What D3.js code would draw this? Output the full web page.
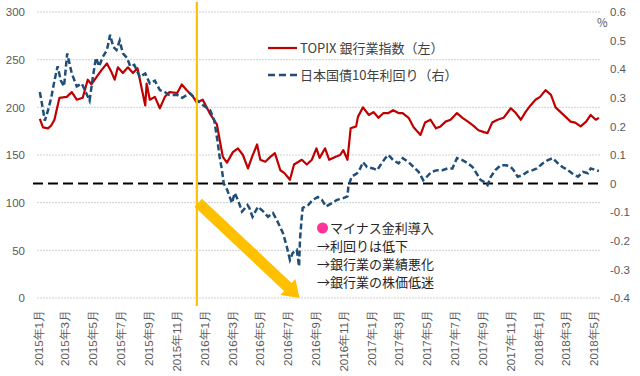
<!DOCTYPE html>
<html>
<head>
<meta charset="utf-8">
<script src="https://cdn.jsdelivr.net/npm/d3@7"></script>
<style>
body { margin: 0; background: #fff; }
svg { display: block; font-family: "Noto Sans CJK JP", "Noto Sans", sans-serif; }
.axis text { fill: #595959; font-size: 11.5px; }
.axis .domain { display: none; }
</style>
</head>
<body>
<svg id="chart" width="640" height="376"></svg>
<script>
// TOPIX 銀行業指数 (left axis)
const bankSeries = [
    ['2015-01-05', 188], ['2015-01-12', 179], ['2015-01-23', 178], ['2015-01-30', 181], ['2015-02-06', 187],
    ['2015-02-17', 210], ['2015-03-05', 211], ['2015-03-16', 216], ['2015-03-27', 208], ['2015-04-09', 210],
    ['2015-04-20', 229], ['2015-04-28', 224], ['2015-05-08', 231], ['2015-05-20', 239], ['2015-06-01', 246],
    ['2015-06-11', 237], ['2015-06-18', 229], ['2015-06-25', 242], ['2015-07-06', 236], ['2015-07-17', 242],
    ['2015-07-28', 236], ['2015-08-07', 241], ['2015-08-24', 202], ['2015-08-27', 225], ['2015-09-03', 208],
    ['2015-09-14', 211], ['2015-09-25', 199], ['2015-10-06', 211], ['2015-10-16', 216], ['2015-11-02', 215],
    ['2015-11-12', 224], ['2015-11-23', 218], ['2015-12-07', 211], ['2015-12-15', 205], ['2015-12-28', 208],
    ['2016-01-12', 194], ['2016-01-28', 182], ['2016-02-03', 166], ['2016-02-10', 148], ['2016-02-19', 142],
    ['2016-03-03', 153], ['2016-03-14', 157], ['2016-03-25', 150], ['2016-04-05', 136], ['2016-04-14', 148],
    ['2016-04-25', 161], ['2016-05-02', 145], ['2016-05-13', 143], ['2016-05-24', 148], ['2016-06-03', 152],
    ['2016-06-15', 134], ['2016-06-24', 131], ['2016-07-06', 124], ['2016-07-15', 140], ['2016-08-01', 145],
    ['2016-08-12', 140], ['2016-08-23', 145], ['2016-09-02', 157], ['2016-09-09', 147], ['2016-09-21', 157],
    ['2016-09-30', 145], ['2016-10-13', 148], ['2016-10-24', 150], ['2016-10-31', 155], ['2016-11-09', 145],
    ['2016-11-16', 178], ['2016-11-28', 180], ['2016-12-02', 190], ['2016-12-13', 200], ['2016-12-26', 192],
    ['2017-01-05', 195], ['2017-01-16', 189], ['2017-01-27', 194], ['2017-02-07', 194], ['2017-02-17', 197],
    ['2017-03-01', 194], ['2017-03-10', 194], ['2017-03-23', 189], ['2017-04-03', 179], ['2017-04-18', 171],
    ['2017-04-28', 184], ['2017-05-10', 187], ['2017-05-22', 178], ['2017-06-01', 180], ['2017-06-12', 185],
    ['2017-06-23', 187], ['2017-07-07', 194], ['2017-07-19', 189], ['2017-07-31', 185], ['2017-08-11', 181],
    ['2017-08-23', 176], ['2017-09-04', 174], ['2017-09-12', 173], ['2017-09-22', 184], ['2017-10-04', 187],
    ['2017-10-17', 189], ['2017-11-02', 199], ['2017-11-13', 194], ['2017-11-24', 187], ['2017-12-04', 195],
    ['2017-12-15', 202], ['2017-12-26', 208], ['2018-01-05', 211], ['2018-01-17', 218], ['2018-01-29', 213],
    ['2018-02-08', 200], ['2018-02-19', 195], ['2018-03-02', 190], ['2018-03-13', 185], ['2018-03-23', 184],
    ['2018-04-04', 180], ['2018-04-16', 185], ['2018-04-26', 192], ['2018-05-07', 187], ['2018-05-14', 189],
];

// 日本国債10年利回り, % (right axis)
const jgbSeries = [
    ['2015-01-05', 0.32], ['2015-01-09', 0.285], ['2015-01-16', 0.22], ['2015-01-23', 0.257], ['2015-01-30', 0.30],
    ['2015-02-06', 0.36], ['2015-02-13', 0.41], ['2015-02-20', 0.36], ['2015-02-27', 0.34], ['2015-03-06', 0.455],
    ['2015-03-16', 0.385], ['2015-03-27', 0.34], ['2015-04-07', 0.35], ['2015-04-17', 0.315], ['2015-04-24', 0.29],
    ['2015-05-01', 0.37], ['2015-05-08', 0.44], ['2015-05-15', 0.41], ['2015-05-22', 0.44], ['2015-06-01', 0.467],
    ['2015-06-08', 0.52], ['2015-06-15', 0.478], ['2015-06-22', 0.467], ['2015-06-29', 0.50], ['2015-07-06', 0.455],
    ['2015-07-15', 0.44], ['2015-07-22', 0.41], ['2015-07-31', 0.415], ['2015-08-12', 0.373], ['2015-08-24', 0.385],
    ['2015-09-03', 0.35], ['2015-09-14', 0.36], ['2015-09-25', 0.327], ['2015-10-06', 0.32], ['2015-10-16', 0.31],
    ['2015-11-02', 0.31], ['2015-11-13', 0.30], ['2015-11-30', 0.316], ['2015-12-15', 0.292], ['2015-12-28', 0.275],
    ['2016-01-13', 0.257], ['2016-01-22', 0.222], ['2016-01-29', 0.152], ['2016-02-03', 0.093], ['2016-02-08', 0.048],
    ['2016-02-12', 0.0], ['2016-02-19', -0.02], ['2016-03-01', -0.068], ['2016-03-07', -0.033], ['2016-03-14', -0.057],
    ['2016-03-23', -0.098], ['2016-04-04', -0.075], ['2016-04-08', -0.085], ['2016-04-15', -0.116], ['2016-04-27', -0.081],
    ['2016-05-09', -0.098], ['2016-05-19', -0.116], ['2016-05-30', -0.103], ['2016-06-07', -0.127], ['2016-06-14', -0.15],
    ['2016-06-21', -0.174], ['2016-06-29', -0.22], ['2016-07-06', -0.267], ['2016-07-12', -0.243], ['2016-07-21', -0.232],
    ['2016-07-26', -0.29], ['2016-07-28', -0.197], ['2016-08-01', -0.116], ['2016-08-03', -0.085], ['2016-08-15', -0.075],
    ['2016-08-25', -0.057], ['2016-09-05', -0.047], ['2016-09-14', -0.057], ['2016-09-23', -0.08], ['2016-10-06', -0.068],
    ['2016-10-17', -0.057], ['2016-10-31', -0.051], ['2016-11-09', -0.045], ['2016-11-11', -0.011], ['2016-11-18', 0.024],
    ['2016-11-30', 0.036], ['2016-12-07', 0.053], ['2016-12-13', 0.075], ['2016-12-22', 0.058], ['2017-01-04', 0.053],
    ['2017-01-13', 0.047], ['2017-01-20', 0.064], ['2017-01-31', 0.089], ['2017-02-07', 0.10], ['2017-02-17', 0.082],
    ['2017-03-01', 0.071], ['2017-03-10', 0.089], ['2017-03-23', 0.075], ['2017-04-03', 0.058], ['2017-04-14', 0.041],
    ['2017-04-24', 0.012], ['2017-05-02', 0.024], ['2017-05-12', 0.041], ['2017-05-25', 0.047], ['2017-06-05', 0.047],
    ['2017-06-16', 0.053], ['2017-06-27', 0.053], ['2017-07-07', 0.089], ['2017-07-19', 0.082], ['2017-07-31', 0.071],
    ['2017-08-10', 0.058], ['2017-08-21', 0.03], ['2017-08-28', 0.012], ['2017-09-04', 0.006], ['2017-09-12', -0.005],
    ['2017-09-19', 0.024], ['2017-09-29', 0.047], ['2017-10-11', 0.064], ['2017-10-23', 0.064], ['2017-11-02', 0.058],
    ['2017-11-08', 0.047], ['2017-11-17', 0.024], ['2017-11-28', 0.03], ['2017-12-08', 0.041], ['2017-12-20', 0.047],
    ['2017-12-29', 0.053], ['2018-01-11', 0.071], ['2018-01-22', 0.082], ['2018-02-02', 0.089], ['2018-02-13', 0.071],
    ['2018-02-23', 0.058], ['2018-03-07', 0.047], ['2018-03-16', 0.036], ['2018-03-29', 0.024], ['2018-04-09', 0.041],
    ['2018-04-20', 0.036], ['2018-04-26', 0.053], ['2018-05-07', 0.047], ['2018-05-14', 0.044],
];

const leftTicks = [0, 50, 100, 150, 200, 250, 300];
const rightTicks = [-0.4, -0.3, -0.2, -0.1, 0, 0.1, 0.2, 0.3, 0.4, 0.5, 0.6];
const monthTicks = [
    '2015-01-01', '2015-03-01', '2015-05-01', '2015-07-01', '2015-09-01', '2015-11-01',
    '2016-01-01', '2016-03-01', '2016-05-01', '2016-07-01', '2016-09-01', '2016-11-01',
    '2017-01-01', '2017-03-01', '2017-05-01', '2017-07-01', '2017-09-01', '2017-11-01',
    '2018-01-01', '2018-03-01', '2018-05-01',
];
const seriesNames = ['TOPIX 銀行業指数（左）', '日本国債10年利回り（右）'];
const noteTitle = 'マイナス金利導入';
const noteLines = ['→利回りは低下', '→銀行業の業績悪化', '→銀行業の株価低迷'];
const markerDate = '2015-12-15';
const arrowFrom = ['2015-12-18', 100];
const arrowTo = ['2016-07-27', 0];

const RED = '#c00000';
const BLUE = '#1f4e79';
const GOLD = '#ffc000';

const parse = d3.timeParse('%Y-%m-%d');
const svg = d3.select('#chart');

const xCoord = d3.scaleTime()
    .domain([parse('2015-01-01'), parse('2018-05-01')])
    .range([38, 593]);
const yLeft = d3.scaleLinear().domain([0, 300]).range([298, 12]);
const yRight = d3.scaleLinear().domain([-0.4, 0.6]).range([298, 12]);

// gridlines
svg.append('g')
    .selectAll('line')
    .data(leftTicks)
    .join('line')
    .attr('x1', 37)
    .attr('x2', 600)
    .attr('y1', d => yLeft(d))
    .attr('y2', d => yLeft(d))
    .attr('stroke', '#d0d0d0')
    .attr('stroke-width', 1)
    .attr('stroke-dasharray', '2,1');

// axes
svg.append('g')
    .attr('class', 'axis')
    .attr('transform', 'translate(29, 0)')
    .call(d3.axisLeft(yLeft).tickValues(leftTicks).tickSize(0).tickPadding(4));

svg.append('g')
    .attr('class', 'axis')
    .attr('transform', 'translate(606, 0)')
    .call(d3.axisRight(yRight).tickValues(rightTicks).tickSize(0).tickPadding(4)
        .tickFormat(d => String(+d.toFixed(1))));

svg.append('text')
    .attr('x', 597)
    .attr('y', 27)
    .attr('fill', '#595959')
    .attr('font-size', '11.5px')
    .text('%');

const xAxisG = svg.append('g')
    .attr('class', 'axis')
    .attr('transform', 'translate(0, 310)')
    .call(d3.axisBottom(xCoord)
        .tickValues(monthTicks.map(parse))
        .tickSize(0)
        .tickFormat(d => `${d.getFullYear()}年${d.getMonth() + 1}月`));

xAxisG.selectAll('text')
    .attr('transform', 'rotate(-90)')
    .attr('text-anchor', 'end')
    .attr('x', 0)
    .attr('y', 0)
    .attr('dy', '0.35em');

// zero line of the yield axis
svg.append('line')
    .attr('x1', 33)
    .attr('x2', 602)
    .attr('y1', yRight(0))
    .attr('y2', yRight(0))
    .attr('stroke', '#000')
    .attr('stroke-width', 2)
    .attr('stroke-dasharray', '10,5');

// lines
const bankLine = d3.line()
    .x(d => xCoord(parse(d[0])))
    .y(d => yLeft(d[1]));

const jgbLine = d3.line()
    .x(d => xCoord(parse(d[0])))
    .y(d => yRight(d[1]));

svg.append('path')
    .attr('d', bankLine(bankSeries))
    .attr('fill', 'none')
    .attr('stroke', RED)
    .attr('stroke-width', 2.2)
    .attr('stroke-linejoin', 'round');

svg.append('path')
    .attr('d', jgbLine(jgbSeries))
    .attr('fill', 'none')
    .attr('stroke', BLUE)
    .attr('stroke-width', 2.5)
    .attr('stroke-dasharray', '6,3');

// marker for negative rate policy
const mx = xCoord(parse(markerDate));
svg.append('line')
    .attr('x1', mx)
    .attr('x2', mx)
    .attr('y1', 2)
    .attr('y2', 306)
    .attr('stroke', GOLD)
    .attr('stroke-width', 2.2);

// thick arrow
const ax0 = xCoord(parse(arrowFrom[0]));
const ay0 = yLeft(arrowFrom[1]);
const ax1 = xCoord(parse(arrowTo[0]));
const ay1 = yLeft(arrowTo[1]);
const len = Math.hypot(ax1 - ax0, ay1 - ay0);
const ux = (ax1 - ax0) / len;
const uy = (ay1 - ay0) / len;
const headLen = 16;
const headHalf = 11;
const bx = ax1 - ux * headLen;
const by = ay1 - uy * headLen;

svg.append('line')
    .attr('x1', ax0)
    .attr('y1', ay0)
    .attr('x2', bx + ux * 1)
    .attr('y2', by + uy * 1)
    .attr('stroke', GOLD)
    .attr('stroke-width', 11);

svg.append('polygon')
    .attr('points', [
        [ax1, ay1],
        [bx - uy * headHalf, by + ux * headHalf],
        [bx + uy * headHalf, by - ux * headHalf],
    ].map(p => p.join(',')).join(' '))
    .attr('fill', GOLD);

// legend
const legend = svg.append('g').attr('transform', 'translate(268, 48)');
legend.append('line')
    .attr('x1', 0).attr('x2', 29).attr('y1', 0).attr('y2', 0)
    .attr('stroke', RED).attr('stroke-width', 2.2);
legend.append('line')
    .attr('x1', 0).attr('x2', 29).attr('y1', 27).attr('y2', 27)
    .attr('stroke', BLUE).attr('stroke-width', 2.5).attr('stroke-dasharray', '7,4');
legend.selectAll('text')
    .data(seriesNames)
    .join('text')
    .attr('x', 32)
    .attr('y', (d, i) => i * 27)
    .attr('dy', '0.35em')
    .attr('fill', '#404040')
    .attr('font-size', '13px')
    .text(d => d);

// note
const note = svg.append('g').attr('transform', 'translate(317, 228)');
note.append('circle')
    .attr('cx', 5.5)
    .attr('cy', 0)
    .attr('r', 5.5)
    .attr('fill', '#ff3399');
note.append('text')
    .attr('x', 13)
    .attr('y', 0)
    .attr('dy', '0.35em')
    .attr('fill', '#262626')
    .attr('font-size', '13px')
    .text(noteTitle);
note.selectAll('text.line')
    .data(noteLines)
    .join('text')
    .attr('class', 'line')
    .attr('x', 0)
    .attr('y', (d, i) => (i + 1) * 18)
    .attr('dy', '0.35em')
    .attr('fill', '#262626')
    .attr('font-size', '13px')
    .text(d => d);
</script>
</body>
</html>
